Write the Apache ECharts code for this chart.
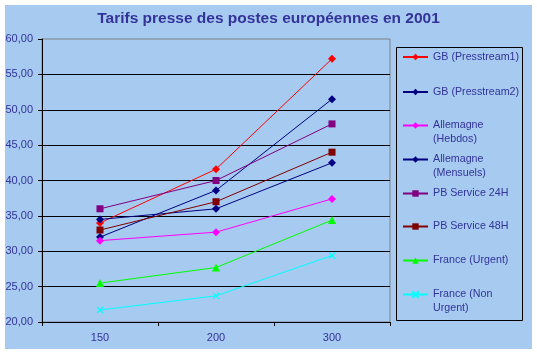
<!DOCTYPE html>
<html>
<head>
<meta charset="utf-8">
<script src="https://cdn.jsdelivr.net/npm/echarts@6/dist/echarts.min.js"></script>
<style>
html,body{margin:0;padding:0;background:#fff;}
#c{width:537px;height:354px;}
</style>
</head>
<body>
<div id="c"></div>
<script>
var title = 'Tarifs presse des postes européennes en 2001';
var categories = ['150', '200', '300'];
var seriesNames = ['GB (Presstream1)', 'GB (Presstream2)', 'Allemagne (Hebdos)', 'Allemagne (Mensuels)', 'PB Service 24H', 'PB Service 48H', 'France (Urgent)', 'France (Non Urgent)'];
var legendLabels = ['GB (Presstream1)', 'GB (Presstream2)', 'Allemagne\n(Hebdos)', 'Allemagne\n(Mensuels)', 'PB Service 24H', 'PB Service 48H', 'France (Urgent)', 'France (Non\nUrgent)'];
var gbPresstream1 = [34.0, 41.6, 57.2];
var gbPresstream2 = [32.0, 38.6, 51.5];
var allemagneHebdos = [31.5, 32.7, 37.4];
var allemagneMensuels = [34.5, 36.0, 42.5];
var pb24h = [36.0, 40.0, 48.0];
var pb48h = [33.0, 37.0, 44.0];
var franceUrgent = [25.5, 27.7, 34.4];
var franceNonUrgent = [21.7, 23.7, 29.4];
var yTicks = [20, 25, 30, 35, 40, 45, 50, 55, 60];

var values = [gbPresstream1, gbPresstream2, allemagneHebdos, allemagneMensuels, pb24h, pb48h, franceUrgent, franceNonUrgent];
var colors = ['#FF0000', '#000080', '#FF00FF', '#000080', '#800080', '#800000', '#00FF00', '#00FFFF'];
var symbols = ['diamond', 'diamond', 'diamond', 'diamond', 'rect', 'rect', 'triangle', 'path://M0,0L10,10M10,0L0,10'];
var symbolSizes = [8, 8, 8, 8, 7, 7, 8, 6];
var legendCenters = [57, 92, 125.5, 159.5, 193.5, 226.5, 260.5, 294.5];

var FONT = '"Liberation Sans", Arial, sans-serif';
var TXT = '#333399';

var series = seriesNames.map(function (n, i) {
  var isX = i === 7;
  return {
    name: n,
    type: 'line',
    data: values[i],
    symbol: symbols[i],
    symbolSize: symbolSizes[i],
    showAllSymbol: true,
    lineStyle: { color: colors[i], width: 1 },
    itemStyle: isX ? { color: colors[i], borderColor: colors[i], borderWidth: 1.2 } : { color: colors[i] },
    emphasis: { disabled: true },
    animation: false
  };
});

var legends = seriesNames.map(function (n, i) {
  var twoLine = legendLabels[i].indexOf('\n') >= 0;
  var lbl = twoLine ? '\n' + legendLabels[i] : legendLabels[i];
  return {
    data: [n],
    left: 402,
    top: legendCenters[i] - (twoLine ? 21 : 7),
    padding: 0,
    orient: 'vertical',
    itemWidth: 25,
    itemHeight: 8,
    selectedMode: false,
    formatter: function () { return lbl; },
    textStyle: { color: TXT, fontSize: 10.7, lineHeight: 14, fontFamily: FONT }
  };
});

var chart = echarts.init(document.getElementById('c'), null, { renderer: 'canvas' });
chart.setOption({
  backgroundColor: '#ffffff',
  animation: false,
  title: {
    text: title,
    left: 'center',
    top: 11,
    padding: 0,
    textStyle: { color: TXT, fontSize: 15.5, fontWeight: 'bold', fontFamily: FONT }
  },
  graphic: [
    { type: 'rect', z: -100, silent: true, shape: { x: 5, y: 5, width: 527, height: 344 }, style: { fill: '#A6CAF0' } },
    { type: 'rect', z: 1, silent: true, shape: { x: 396.5, y: 47.5, width: 126, height: 273 }, style: { fill: 'none', stroke: '#000000', lineWidth: 1 } }
  ],
  legend: legends,
  grid: {
    left: 42, right: 147, top: 39, bottom: 32,
    show: true, backgroundColor: 'transparent', borderColor: '#808080', borderWidth: 1
  },
  xAxis: {
    type: 'category',
    data: categories,
    boundaryGap: true,
    axisLine: { lineStyle: { color: '#000000', width: 1 } },
    axisTick: { show: true, length: 4, lineStyle: { color: '#000000' } },
    axisLabel: { color: TXT, fontSize: 11, fontFamily: FONT, margin: 10 },
    splitLine: { show: false }
  },
  yAxis: {
    type: 'value',
    min: 20, max: 60, interval: 5,
    axisLine: { show: true, lineStyle: { color: '#000000', width: 1 } },
    axisTick: { show: true, length: 4, lineStyle: { color: '#000000' } },
    axisLabel: {
      color: TXT, fontSize: 11, fontFamily: FONT, margin: 9,
      formatter: function (v) { return yTicks.indexOf(v) >= 0 ? v.toFixed(2).replace('.', ',') : ''; }
    },
    splitLine: { show: true, showMinLine: false, showMaxLine: false, lineStyle: { color: '#000000', width: 1 } }
  },
  series: series
});
</script>
</body>
</html>
